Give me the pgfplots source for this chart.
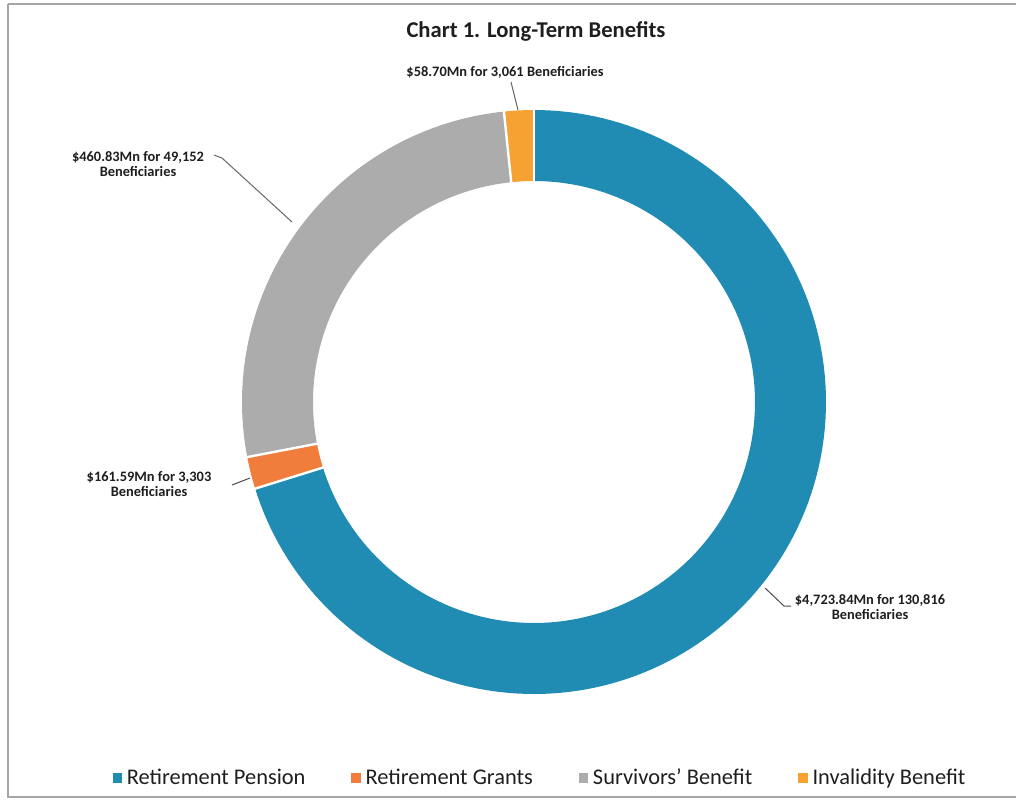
\documentclass[border=0pt]{standalone}
\usepackage{pgfplots}
\pgfplotsset{compat=1.18}
\usepackage{pgfplotstable}
\usepackage{fontspec}
\setmainfont{Carlito}
\definecolor{cRP}{RGB}{32,140,180}
\definecolor{cRG}{RGB}{240,125,60}
\definecolor{cSB}{RGB}{172,172,172}
\definecolor{cIB}{RGB}{245,162,50}
\definecolor{txt}{RGB}{30,30,30}
\pgfplotstableread{
name value money
RP 130816 4723.84
RG 3303 161.59
SB 49152 460.83
IB 3061 58.70
}\data
\begin{document}
\begin{tikzpicture}
\pgfplotstablegetelem{0}{value}\of\data \edef\vA{\pgfplotsretval}
\pgfplotstablegetelem{1}{value}\of\data \edef\vB{\pgfplotsretval}
\pgfplotstablegetelem{2}{value}\of\data \edef\vC{\pgfplotsretval}
\pgfplotstablegetelem{3}{value}\of\data \edef\vD{\pgfplotsretval}
\edef\tot{\fpeval{\vA+\vB+\vC+\vD}}
\edef\aO{90}
\edef\aA{\fpeval{round(\aO-360*\vA/\tot,4)}}
\edef\aB{\fpeval{round(\aA-360*\vB/\tot,4)}}
\edef\aC{\fpeval{round(\aB-360*\vC/\tot,4)}}
\edef\aD{\fpeval{round(\aC-360*\vD/\tot,4)}}
\begin{axis}[
  scale only axis, width=511pt, height=399.5pt,
  xmin=0, xmax=1022, ymin=0, ymax=799, y dir=reverse,
  hide axis, clip=false,
  legend columns=4,
  legend style={at={(axis cs:541,778)}, anchor=center, draw=none, fill=none,
    font=\fontsize{11.2}{13}\selectfont\color{txt},
    /tikz/every odd column/.append style={column sep=0.5pt},
    /tikz/every even column/.append style={column sep=21pt}},
  legend image code/.code={\fill[#1] (2pt,-2.1pt) rectangle (6.2pt,2.1pt);},
]
\path (axis cs:0,0) rectangle (axis cs:1022,799);
\draw[black!35, line width=0.6pt] (axis cs:8,4) -- (axis cs:1016,4);
\draw[black!35, line width=0.6pt] (axis cs:8,4) -- (axis cs:8,797) -- (axis cs:1016,797);
% ring segments
\addplot[cRP, line width=35.5pt, line cap=butt, domain=\aA:\aO, samples=150, forget plot] ({534+256.5*cos(x)},{402-256.5*sin(x)});
\addplot[cRG, line width=35.5pt, line cap=butt, domain=\aB:\aA, samples=20, forget plot] ({534+256.5*cos(x)},{402-256.5*sin(x)});
\addplot[cSB, line width=35.5pt, line cap=butt, domain=\aC:\aB, samples=80, forget plot] ({534+256.5*cos(x)},{402-256.5*sin(x)});
\addplot[cIB, line width=35.5pt, line cap=butt, domain=\aD:\aC, samples=20, forget plot] ({534+256.5*cos(x)},{402-256.5*sin(x)});
% separators
\addplot[white, line width=1.2pt, domain=218:296, samples=2, forget plot] ({534+x*cos(\aO)},{402-x*sin(\aO)});
\addplot[white, line width=1.2pt, domain=218:296, samples=2, forget plot] ({534+x*cos(\aA)},{402-x*sin(\aA)});
\addplot[white, line width=1.2pt, domain=218:296, samples=2, forget plot] ({534+x*cos(\aB)},{402-x*sin(\aB)});
\addplot[white, line width=1.2pt, domain=218:296, samples=2, forget plot] ({534+x*cos(\aC)},{402-x*sin(\aC)});
% leader lines
\addplot[black!70, line width=0.5pt, forget plot] coordinates {(765,588) (784,606) (791,606)};
\addplot[black!60, line width=0.5pt, forget plot] coordinates {(214,155) (222,158) (292,222)};
\addplot[black!60, line width=0.5pt, forget plot] coordinates {(511,82) (518,110)};
\addplot[black!70, line width=0.5pt, forget plot] coordinates {(232,485) (250,478)};
% labels
\node[font=\bfseries\fontsize{11.3}{13}\selectfont, text=txt] at (axis cs:536,31) {Chart 1. Long-Term Benefits};
\node[font=\bfseries\fontsize{7.2}{7.5}\selectfont, text=txt] at (axis cs:505,72) {\$58.70Mn for 3,061 Beneficiaries};
\node[font=\bfseries\fontsize{7.2}{7.5}\selectfont, text=txt, align=center] at (axis cs:138,164) {\$460.83Mn for 49,152\\Beneficiaries};
\node[font=\bfseries\fontsize{7.2}{7.5}\selectfont, text=txt, align=center] at (axis cs:149,484) {\$161.59Mn for 3,303\\Beneficiaries};
\node[font=\bfseries\fontsize{7.2}{7.5}\selectfont, text=txt, align=center] at (axis cs:870,607) {\$4,723.84Mn for 130,816\\Beneficiaries};
% legend
\addlegendimage{cRP}
\addlegendentry{Retirement Pension}
\addlegendimage{cRG}
\addlegendentry{Retirement Grants}
\addlegendimage{cSB}
\addlegendentry{Survivors’ Benefit}
\addlegendimage{cIB}
\addlegendentry{Invalidity Benefit}
\end{axis}
\end{tikzpicture}
\end{document}
